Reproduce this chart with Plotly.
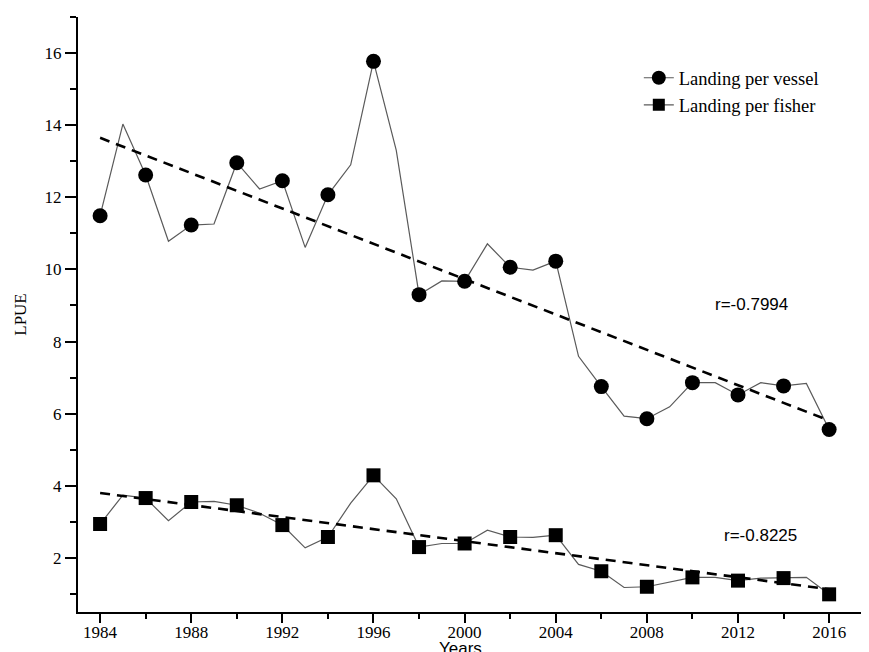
import plotly.graph_objects as go

years = list(range(1984, 2017))
vessel = [11.49, 14.03, 12.62, 10.78, 11.23, 11.26, 12.96, 12.23, 12.46, 10.61,
          12.07, 12.90, 15.77, 13.30, 9.30, 9.68, 9.67, 10.71, 10.06, 9.98,
          10.23, 7.59, 6.75, 5.93, 5.86, 6.19, 6.86, 6.86, 6.52, 6.86,
          6.77, 6.84, 5.56]
fisher = [2.94, 3.74, 3.66, 3.03, 3.55, 3.57, 3.46, 3.24, 2.91, 2.28,
          2.58, 3.52, 4.29, 3.64, 2.30, 2.40, 2.40, 2.77, 2.58, 2.57,
          2.63, 1.82, 1.63, 1.18, 1.20, 1.32, 1.46, 1.46, 1.37, 1.44,
          1.44, 1.46, 0.99]
trend_years = [1984, 2016]
vessel_trend = [13.65, 5.81]
fisher_trend = [3.80, 1.13]
r_labels = ["r=-0.7994", "r=-0.8225"]
r_pos_x = [2012.6, 2013.0]
r_pos_y = [9.04, 2.61]
names = ["Landing per vessel", "Landing per fisher"]

even_years = years[::2]
vessel_even = vessel[::2]
fisher_even = fisher[::2]

LINE = "#5a5a5a"
SERIF = "Liberation Serif, Times New Roman, serif"
SANS = "Liberation Sans, Arial, sans-serif"

fig = go.Figure()
for vals, even_vals, trend, sym, nm in [
    (vessel, vessel_even, vessel_trend, "circle", names[0]),
    (fisher, fisher_even, fisher_trend, "square", names[1]),
]:
    fig.add_trace(go.Scatter(x=years, y=vals, mode="lines",
                             line=dict(color=LINE, width=1.2), showlegend=False))
    fig.add_trace(go.Scatter(x=trend_years, y=trend, mode="lines",
                             line=dict(color="black", width=2.6, dash="10px,7px"),
                             showlegend=False))
    fig.add_trace(go.Scatter(x=even_years, y=even_vals, mode="markers",
                             marker=dict(symbol=sym, color="black",
                                         size=15 if sym == "circle" else 14),
                             showlegend=False))
    fig.add_trace(go.Scatter(x=[None], y=[None], mode="lines+markers", name=nm,
                             line=dict(color=LINE, width=1.2),
                             marker=dict(symbol=sym, color="black",
                                         size=14 if sym == "circle" else 12)))

for t, xx, yy in zip(r_labels, r_pos_x, r_pos_y):
    fig.add_annotation(x=xx, y=yy, text=t, showarrow=False,
                       font=dict(family=SANS, size=17, color="black"))

# x-axis title as annotation (slightly left of plot centre, near the page edge)
fig.add_annotation(x=1999.8, xref="x", y=-0.042, yref="paper", yanchor="top",
                   text="Years", showarrow=False,
                   font=dict(family=SANS, size=17, color="black"))

# page body has an 8px margin; figure is sized/offset to compensate
fig.update_layout(
    width=861, height=644,
    margin=dict(l=70, r=0, t=9, b=40, autoexpand=False),
    paper_bgcolor="white", plot_bgcolor="white",
    font=dict(family=SERIF, size=16, color="black"),
    legend=dict(x=0.709, y=0.929, xanchor="left", yanchor="top",
                bgcolor="rgba(0,0,0,0)", font=dict(family=SERIF, size=18.5),
                tracegroupgap=0, itemwidth=30),
    showlegend=True,
)
fig.update_xaxes(
    range=[1983.03, 2017.75], showgrid=False, zeroline=False, automargin=False,
    showline=True, linecolor="black", linewidth=2,
    tickmode="array", tickvals=list(range(1984, 2017, 4)),
    ticks="outside", ticklen=9, tickwidth=2, tickcolor="black",
    ticklabelstandoff=-5,
    minor=dict(tickmode="array", tickvals=list(range(1986, 2017, 4)),
               ticks="outside", ticklen=5, tickwidth=2, tickcolor="black"),
    tickfont=dict(family=SERIF, size=17),
)
fig.update_yaxes(
    range=[0.5, 17.0], showgrid=False, zeroline=False, automargin=False,
    showline=True, linecolor="black", linewidth=2,
    tickmode="array", tickvals=list(range(2, 17, 2)),
    ticks="outside", ticklen=11, tickwidth=2, tickcolor="black",
    minor=dict(tickmode="array", tickvals=list(range(1, 18, 2)),
               ticks="outside", ticklen=6, tickwidth=2, tickcolor="black"),
    tickfont=dict(family=SERIF, size=17),
    title=dict(text="LPUE", font=dict(family=SERIF, size=17), standoff=14),
)

fig.write_html("out.html")
